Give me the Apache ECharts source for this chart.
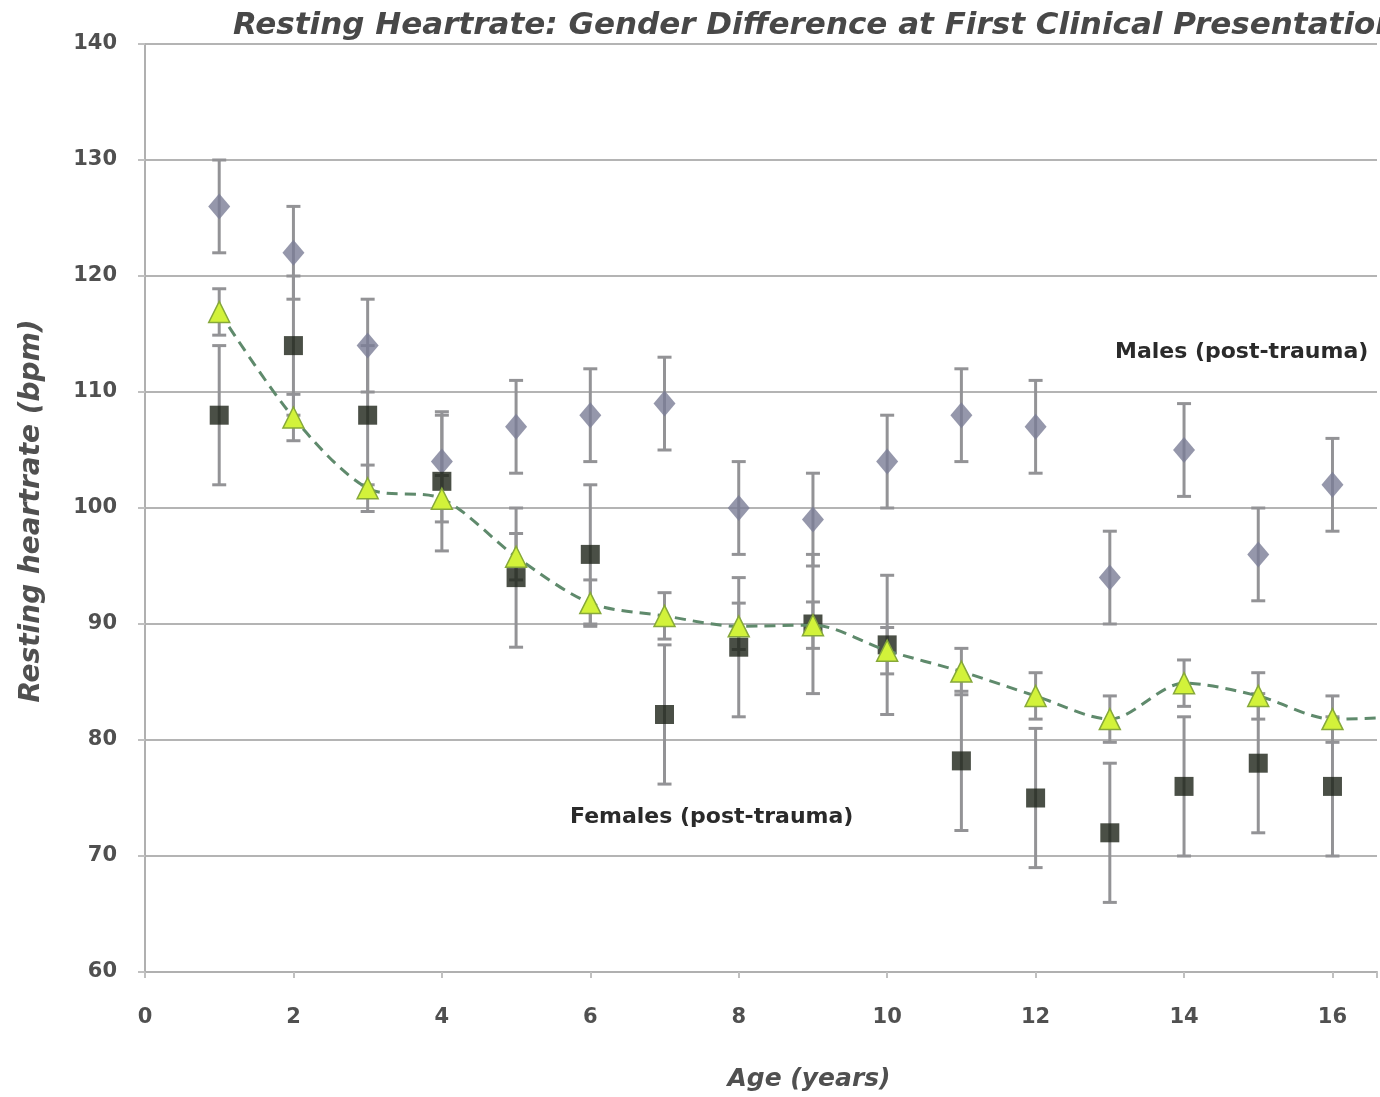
<!DOCTYPE html>
<html>
<head>
<meta charset="utf-8">
<title>Resting Heartrate</title>
<script src="https://cdn.jsdelivr.net/npm/echarts@6/dist/echarts.min.js"></script>
<style>
  html, body { margin: 0; padding: 0; background: #fff; }
  #main { width: 1380px; height: 1097px; }
</style>
</head>
<body>
<div id="main"></div>
<script>
// values (age in years, heartrate in bpm)
const ages = [1, 2, 3, 4, 5, 6, 7, 8, 9, 10, 11, 12, 13, 14, 15, 16];
const maleMean = [126, 122, 114, 104, 107, 108, 109, 100, 99, 104, 108, 107, 94, 105, 96, 102];
const maleErr = [4, 4, 4, 4, 4, 4, 4, 4, 4, 4, 4, 4, 4, 4, 4, 4];
const femaleMean = [108, 114, 108, 102.3, 94, 96, 82.2, 88, 90, 88.2, 78.2, 75, 72, 76, 78, 76];
const femaleErr = [6, 6, 6, 6, 6, 6, 6, 6, 6, 6, 6, 6, 6, 6, 6, 6];
const allAges = [1, 2, 3, 4, 5, 6, 7, 8, 9, 10, 11, 12, 13, 14, 15, 16, 17];
const allMean = [116.9, 107.8, 101.7, 100.8, 95.8, 91.8, 90.7, 89.8, 89.9, 87.7, 85.9, 83.8, 81.8, 84.9, 83.8, 81.8, 82];
const allErr = [2, 2, 2, 2, 2, 2, 2, 2, 2, 2, 2, 2, 2, 2, 2, 2];
const yTicks = [60, 70, 80, 90, 100, 110, 120, 130, 140];

const titleText = 'Resting Heartrate: Gender Difference at First Clinical Presentation';
const FONT = 'DejaVu Sans, Verdana, sans-serif';

function errRows(xs, mean, err) {
  return err.map((e, i) => [xs[i], mean[i] - e, mean[i] + e]);
}

function errorBars(name, rows) {
  return {
    type: 'custom',
    name: name,
    z: 2,
    silent: true,
    encode: { x: 0, y: [1, 2] },
    data: rows,
    renderItem: function (params, api) {
      const x = api.value(0);
      const top = api.coord([x, api.value(2)]);
      const bot = api.coord([x, api.value(1)]);
      const hw = 7;
      const st = { stroke: '#939396', lineWidth: 3 };
      return {
        type: 'group',
        children: [
          { type: 'line', shape: { x1: top[0], y1: top[1], x2: bot[0], y2: bot[1] }, style: st },
          { type: 'line', shape: { x1: top[0] - hw, y1: top[1], x2: top[0] + hw, y2: top[1] }, style: st },
          { type: 'line', shape: { x1: bot[0] - hw, y1: bot[1], x2: bot[0] + hw, y2: bot[1] }, style: st }
        ]
      };
    }
  };
}

const chart = echarts.init(document.getElementById('main'));

chart.setOption({
  backgroundColor: '#fff',
  animation: false,
  textStyle: { fontFamily: FONT },
  grid: { left: 145, right: 0, top: 44, bottom: 125 },
  xAxis: {
    type: 'value',
    min: 0,
    max: 16.6,
    interval: 2,
    axisLine: { lineStyle: { color: '#b0b0b0', width: 2 } },
    axisTick: { show: true, length: 6, lineStyle: { color: '#c0c0c0', width: 2 } },
    splitLine: { show: false },
    axisLabel: {
      margin: 35,
      color: '#505050',
      fontSize: 21,
      fontWeight: 'bold',
      fontFamily: FONT,
      formatter: v => (v % 2 === 0 ? String(v) : '')
    }
  },
  yAxis: {
    type: 'value',
    min: yTicks[0],
    max: yTicks[yTicks.length - 1],
    interval: 10,
    axisLine: { show: true, lineStyle: { color: '#b0b0b0', width: 2 } },
    axisTick: { show: true, length: 7, lineStyle: { color: '#c0c0c0', width: 2 } },
    splitLine: { lineStyle: { color: '#b4b4b4', width: 2 } },
    axisLabel: { margin: 28, color: '#505050', fontSize: 21, fontWeight: 'bold', fontFamily: FONT }
  },
  graphic: [
    {
      type: 'text', left: 233, top: 10,
      style: { text: titleText, fontSize: 31, fontWeight: 'bold', fontStyle: 'italic', fill: '#484848', fontFamily: FONT }
    },
    {
      type: 'text', x: 32, y: 511, rotation: Math.PI / 2,
      style: { text: 'Resting heartrate (bpm)', fontSize: 28, fontWeight: 'bold', fontStyle: 'italic', fill: '#505050', align: 'center', verticalAlign: 'middle', fontFamily: FONT }
    },
    {
      type: 'text', x: 809, y: 1079,
      style: { text: 'Age (years)', fontSize: 25, fontWeight: 'bold', fontStyle: 'italic', fill: '#505050', align: 'center', verticalAlign: 'middle', fontFamily: FONT }
    },
    {
      type: 'text', x: 1115, y: 352,
      style: { text: 'Males (post-trauma)', fontSize: 22, fontWeight: 'bold', fill: '#2a2a2a', verticalAlign: 'middle', fontFamily: FONT }
    },
    {
      type: 'text', x: 570, y: 817,
      style: { text: 'Females (post-trauma)', fontSize: 22, fontWeight: 'bold', fill: '#2a2a2a', verticalAlign: 'middle', fontFamily: FONT }
    }
  ],
  series: [
    errorBars('Males error', errRows(ages, maleMean, maleErr)),
    errorBars('Females error', errRows(ages, femaleMean, femaleErr)),
    errorBars('All error', errRows(allAges, allMean, allErr)),
    {
      name: 'Males (post-trauma)',
      type: 'scatter',
      z: 3,
      symbol: 'diamond',
      symbolSize: [22, 26],
      itemStyle: { color: '#7b7d96' },
      data: ages.map((a, i) => [a, maleMean[i]])
    },
    {
      name: 'Females (post-trauma)',
      type: 'scatter',
      z: 3,
      symbol: 'rect',
      symbolSize: 19,
      itemStyle: { color: '#1d2318' },
      data: ages.map((a, i) => [a, femaleMean[i]])
    },
    {
      name: 'All (post-trauma)',
      type: 'line',
      z: 4,
      smooth: 0.3,
      clip: true,
      symbol: 'triangle',
      symbolSize: 21,
      showAllSymbol: true,
      lineStyle: { color: '#5f8a6c', width: 3, type: [11, 7] },
      itemStyle: { color: '#d2f23a', borderColor: '#86a83a', borderWidth: 1.5 },
      data: allAges.map((a, i) => [a, allMean[i]])
    }
  ]
});
</script>
</body>
</html>
